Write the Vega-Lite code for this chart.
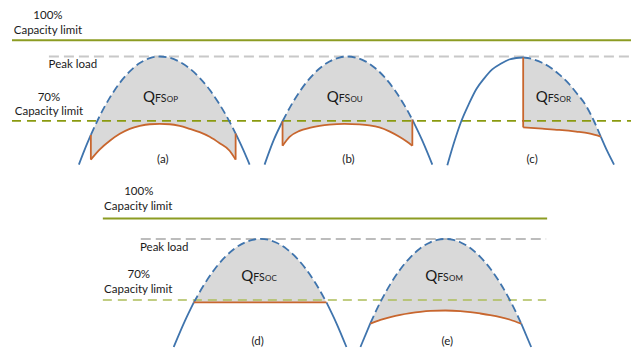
{
  "$schema": "https://vega.github.io/schema/vega-lite/v6.json",
  "width": 632,
  "height": 351,
  "padding": 0,
  "autosize": {"type": "fit", "contains": "padding"},
  "background": "white",
  "config": {"view": {"stroke": null}, "text": {"font": "Lato", "color": "#1a1a1a"}},
  "datasets": {
    "hl": [
      {"kind": "cap100", "x": 12, "x2": 632, "y": 40.5},
      {"kind": "peak", "x": 49, "x2": 632, "y": 57},
      {"kind": "cap70", "x": 12, "x2": 632, "y": 122},
      {"kind": "cap100", "x": 103, "x2": 548, "y": 220.5},
      {"kind": "peakB", "x": 141, "x2": 547, "y": 241},
      {"kind": "cap70B", "x": 103, "x2": 547, "y": 302.7}
    ],
    "fl": [
      {"p": "a", "x": 91, "top": 136.1, "bot": 161},
      {"p": "a", "x": 100, "top": 116.8, "bot": 150.7},
      {"p": "a", "x": 110, "top": 98.5, "bot": 142},
      {"p": "a", "x": 120, "top": 83.6, "bot": 135},
      {"p": "a", "x": 130, "top": 72, "bot": 130},
      {"p": "a", "x": 140, "top": 63.6, "bot": 127},
      {"p": "a", "x": 150, "top": 58.7, "bot": 125.3},
      {"p": "a", "x": 160, "top": 57, "bot": 125},
      {"p": "a", "x": 170, "top": 58.3, "bot": 125.3},
      {"p": "a", "x": 180, "top": 62.4, "bot": 127},
      {"p": "a", "x": 190, "top": 69.1, "bot": 130},
      {"p": "a", "x": 200, "top": 78.5, "bot": 133.3},
      {"p": "a", "x": 210, "top": 90.6, "bot": 138},
      {"p": "a", "x": 220, "top": 105.4, "bot": 144.5},
      {"p": "a", "x": 230, "top": 122.9, "bot": 152},
      {"p": "a", "x": 236, "top": 134.7, "bot": 161},
      {"p": "b", "x": 283, "top": 122.3, "bot": 147},
      {"p": "b", "x": 290, "top": 109, "bot": 138},
      {"p": "b", "x": 300, "top": 92.6, "bot": 132},
      {"p": "b", "x": 310, "top": 79.3, "bot": 129},
      {"p": "b", "x": 320, "top": 69.1, "bot": 127},
      {"p": "b", "x": 330, "top": 62, "bot": 125.7},
      {"p": "b", "x": 340, "top": 58, "bot": 125.2},
      {"p": "b", "x": 348, "top": 57, "bot": 125},
      {"p": "b", "x": 356, "top": 58, "bot": 125.3},
      {"p": "b", "x": 366, "top": 61.9, "bot": 126},
      {"p": "b", "x": 376, "top": 68.8, "bot": 127.6},
      {"p": "b", "x": 386, "top": 78.8, "bot": 130.5},
      {"p": "b", "x": 396, "top": 91.8, "bot": 135.5},
      {"p": "b", "x": 406, "top": 107.8, "bot": 141.8},
      {"p": "b", "x": 413, "top": 120.7, "bot": 147},
      {"p": "c", "x": 524, "top": 58, "bot": 128.5},
      {"p": "c", "x": 533, "top": 59.5, "bot": 129.2},
      {"p": "c", "x": 543, "top": 63.3, "bot": 129.8},
      {"p": "c", "x": 552, "top": 68.5, "bot": 130.4},
      {"p": "c", "x": 560, "top": 75, "bot": 131},
      {"p": "c", "x": 569, "top": 83.5, "bot": 131.8},
      {"p": "c", "x": 577, "top": 93.3, "bot": 132.7},
      {"p": "c", "x": 587, "top": 106.7, "bot": 134.2},
      {"p": "c", "x": 595, "top": 122.3, "bot": 135.7},
      {"p": "c", "x": 601.7, "top": 137.7, "bot": 137.7},
      {"p": "d", "x": 194, "top": 305, "bot": 305},
      {"p": "d", "x": 205, "top": 286.2, "bot": 305},
      {"p": "d", "x": 215, "top": 271.5, "bot": 305},
      {"p": "d", "x": 225, "top": 259.7, "bot": 305},
      {"p": "d", "x": 235, "top": 250.7, "bot": 305},
      {"p": "d", "x": 245, "top": 244.7, "bot": 305},
      {"p": "d", "x": 253, "top": 241.9, "bot": 305},
      {"p": "d", "x": 261, "top": 241, "bot": 305},
      {"p": "d", "x": 269, "top": 241.9, "bot": 305},
      {"p": "d", "x": 277, "top": 244.8, "bot": 305},
      {"p": "d", "x": 287, "top": 251, "bot": 305},
      {"p": "d", "x": 297, "top": 260.1, "bot": 305},
      {"p": "d", "x": 307, "top": 272.2, "bot": 305},
      {"p": "d", "x": 317, "top": 287.2, "bot": 305},
      {"p": "d", "x": 327, "top": 305, "bot": 305},
      {"p": "e", "x": 371, "top": 325.9, "bot": 326.5},
      {"p": "e", "x": 381, "top": 304.7, "bot": 322.7},
      {"p": "e", "x": 391, "top": 286.6, "bot": 319.8},
      {"p": "e", "x": 401, "top": 271.5, "bot": 317.5},
      {"p": "e", "x": 411, "top": 259.5, "bot": 315.8},
      {"p": "e", "x": 421, "top": 250.4, "bot": 314.5},
      {"p": "e", "x": 431, "top": 244.4, "bot": 313.6},
      {"p": "e", "x": 438, "top": 242, "bot": 313.3},
      {"p": "e", "x": 446, "top": 241, "bot": 313.2},
      {"p": "e", "x": 454, "top": 242, "bot": 313.4},
      {"p": "e", "x": 461, "top": 244.3, "bot": 313.8},
      {"p": "e", "x": 471, "top": 250.2, "bot": 314.8},
      {"p": "e", "x": 481, "top": 259.1, "bot": 316.2},
      {"p": "e", "x": 491, "top": 270.8, "bot": 317.8},
      {"p": "e", "x": 501, "top": 285.6, "bot": 319.8},
      {"p": "e", "x": 511, "top": 303.3, "bot": 322.5},
      {"p": "e", "x": 522, "top": 326.1, "bot": 326.5}
    ],
    "cv": [
      {"seg": "aL", "kind": "blueSolid", "x": 79, "y": 166},
      {"seg": "aL", "kind": "blueSolid", "x": 85, "y": 150.4},
      {"seg": "aL", "kind": "blueSolid", "x": 91, "y": 136.1},
      {"seg": "aD", "kind": "blueDash", "x": 91, "y": 136.1},
      {"seg": "aD", "kind": "blueDash", "x": 100, "y": 116.8},
      {"seg": "aD", "kind": "blueDash", "x": 110, "y": 98.5},
      {"seg": "aD", "kind": "blueDash", "x": 120, "y": 83.6},
      {"seg": "aD", "kind": "blueDash", "x": 130, "y": 72},
      {"seg": "aD", "kind": "blueDash", "x": 140, "y": 63.6},
      {"seg": "aD", "kind": "blueDash", "x": 150, "y": 58.7},
      {"seg": "aD", "kind": "blueDash", "x": 160, "y": 57},
      {"seg": "aD", "kind": "blueDash", "x": 170, "y": 58.3},
      {"seg": "aD", "kind": "blueDash", "x": 180, "y": 62.4},
      {"seg": "aD", "kind": "blueDash", "x": 190, "y": 69.1},
      {"seg": "aD", "kind": "blueDash", "x": 200, "y": 78.5},
      {"seg": "aD", "kind": "blueDash", "x": 210, "y": 90.6},
      {"seg": "aD", "kind": "blueDash", "x": 220, "y": 105.4},
      {"seg": "aD", "kind": "blueDash", "x": 230, "y": 122.9},
      {"seg": "aD", "kind": "blueDash", "x": 236, "y": 134.7},
      {"seg": "aR", "kind": "blueSolid", "x": 236, "y": 134.7},
      {"seg": "aR", "kind": "blueSolid", "x": 243, "y": 149.7},
      {"seg": "aR", "kind": "blueSolid", "x": 250, "y": 166},
      {"seg": "aO", "kind": "orange", "x": 91, "y": 161},
      {"seg": "aO", "kind": "orange", "x": 100, "y": 150.7},
      {"seg": "aO", "kind": "orange", "x": 110, "y": 142},
      {"seg": "aO", "kind": "orange", "x": 120, "y": 135},
      {"seg": "aO", "kind": "orange", "x": 130, "y": 130},
      {"seg": "aO", "kind": "orange", "x": 140, "y": 127},
      {"seg": "aO", "kind": "orange", "x": 150, "y": 125.3},
      {"seg": "aO", "kind": "orange", "x": 160, "y": 125},
      {"seg": "aO", "kind": "orange", "x": 170, "y": 125.3},
      {"seg": "aO", "kind": "orange", "x": 180, "y": 127},
      {"seg": "aO", "kind": "orange", "x": 190, "y": 130},
      {"seg": "aO", "kind": "orange", "x": 200, "y": 133.3},
      {"seg": "aO", "kind": "orange", "x": 210, "y": 138},
      {"seg": "aO", "kind": "orange", "x": 220, "y": 144.5},
      {"seg": "aO", "kind": "orange", "x": 230, "y": 152},
      {"seg": "aO", "kind": "orange", "x": 236, "y": 161},
      {"seg": "bL", "kind": "blueSolid", "x": 265, "y": 166},
      {"seg": "bL", "kind": "blueSolid", "x": 274, "y": 141.6},
      {"seg": "bL", "kind": "blueSolid", "x": 283, "y": 122.3},
      {"seg": "bD", "kind": "blueDash", "x": 283, "y": 122.3},
      {"seg": "bD", "kind": "blueDash", "x": 290, "y": 109},
      {"seg": "bD", "kind": "blueDash", "x": 300, "y": 92.6},
      {"seg": "bD", "kind": "blueDash", "x": 310, "y": 79.3},
      {"seg": "bD", "kind": "blueDash", "x": 320, "y": 69.1},
      {"seg": "bD", "kind": "blueDash", "x": 330, "y": 62},
      {"seg": "bD", "kind": "blueDash", "x": 340, "y": 58},
      {"seg": "bD", "kind": "blueDash", "x": 348, "y": 57},
      {"seg": "bD", "kind": "blueDash", "x": 356, "y": 58},
      {"seg": "bD", "kind": "blueDash", "x": 366, "y": 61.9},
      {"seg": "bD", "kind": "blueDash", "x": 376, "y": 68.8},
      {"seg": "bD", "kind": "blueDash", "x": 386, "y": 78.8},
      {"seg": "bD", "kind": "blueDash", "x": 396, "y": 91.8},
      {"seg": "bD", "kind": "blueDash", "x": 406, "y": 107.8},
      {"seg": "bD", "kind": "blueDash", "x": 413, "y": 120.7},
      {"seg": "bR", "kind": "blueSolid", "x": 413, "y": 120.7},
      {"seg": "bR", "kind": "blueSolid", "x": 423, "y": 141.9},
      {"seg": "bR", "kind": "blueSolid", "x": 433, "y": 166},
      {"seg": "bO", "kind": "orange", "x": 283, "y": 147},
      {"seg": "bO", "kind": "orange", "x": 290, "y": 138},
      {"seg": "bO", "kind": "orange", "x": 300, "y": 132},
      {"seg": "bO", "kind": "orange", "x": 310, "y": 129},
      {"seg": "bO", "kind": "orange", "x": 320, "y": 127},
      {"seg": "bO", "kind": "orange", "x": 330, "y": 125.7},
      {"seg": "bO", "kind": "orange", "x": 345, "y": 125},
      {"seg": "bO", "kind": "orange", "x": 360, "y": 125.5},
      {"seg": "bO", "kind": "orange", "x": 370, "y": 126.5},
      {"seg": "bO", "kind": "orange", "x": 380, "y": 128.5},
      {"seg": "bO", "kind": "orange", "x": 390, "y": 132.5},
      {"seg": "bO", "kind": "orange", "x": 400, "y": 138},
      {"seg": "bO", "kind": "orange", "x": 407, "y": 142.5},
      {"seg": "bO", "kind": "orange", "x": 413, "y": 147},
      {"seg": "cL", "kind": "blueSolid", "x": 448, "y": 166.7},
      {"seg": "cL", "kind": "blueSolid", "x": 455, "y": 143},
      {"seg": "cL", "kind": "blueSolid", "x": 462, "y": 122.3},
      {"seg": "cL", "kind": "blueSolid", "x": 470, "y": 104},
      {"seg": "cL", "kind": "blueSolid", "x": 477, "y": 90},
      {"seg": "cL", "kind": "blueSolid", "x": 485, "y": 79},
      {"seg": "cL", "kind": "blueSolid", "x": 493, "y": 70},
      {"seg": "cL", "kind": "blueSolid", "x": 502, "y": 64},
      {"seg": "cL", "kind": "blueSolid", "x": 510, "y": 60},
      {"seg": "cL", "kind": "blueSolid", "x": 517, "y": 58.5},
      {"seg": "cL", "kind": "blueSolid", "x": 524, "y": 58},
      {"seg": "cD", "kind": "blueDash", "x": 524, "y": 58},
      {"seg": "cD", "kind": "blueDash", "x": 533, "y": 59.5},
      {"seg": "cD", "kind": "blueDash", "x": 543, "y": 63.3},
      {"seg": "cD", "kind": "blueDash", "x": 552, "y": 68.5},
      {"seg": "cD", "kind": "blueDash", "x": 560, "y": 75},
      {"seg": "cD", "kind": "blueDash", "x": 569, "y": 83.5},
      {"seg": "cD", "kind": "blueDash", "x": 577, "y": 93.3},
      {"seg": "cD", "kind": "blueDash", "x": 587, "y": 106.7},
      {"seg": "cD", "kind": "blueDash", "x": 595, "y": 122.3},
      {"seg": "cD", "kind": "blueDash", "x": 601.7, "y": 137.7},
      {"seg": "cR", "kind": "blueSolid", "x": 601.7, "y": 137.7},
      {"seg": "cR", "kind": "blueSolid", "x": 608, "y": 152},
      {"seg": "cR", "kind": "blueSolid", "x": 615, "y": 166},
      {"seg": "cO", "kind": "orange", "x": 524, "y": 128.5},
      {"seg": "cO", "kind": "orange", "x": 543, "y": 129.8},
      {"seg": "cO", "kind": "orange", "x": 560, "y": 131},
      {"seg": "cO", "kind": "orange", "x": 577, "y": 132.7},
      {"seg": "cO", "kind": "orange", "x": 590, "y": 134.5},
      {"seg": "cO", "kind": "orange", "x": 601.7, "y": 137.7},
      {"seg": "dL", "kind": "blueSolid", "x": 174, "y": 350},
      {"seg": "dL", "kind": "blueSolid", "x": 185, "y": 324.2},
      {"seg": "dL", "kind": "blueSolid", "x": 194, "y": 305.3},
      {"seg": "dD", "kind": "blueDash", "x": 194, "y": 305.3},
      {"seg": "dD", "kind": "blueDash", "x": 205, "y": 286.2},
      {"seg": "dD", "kind": "blueDash", "x": 215, "y": 271.5},
      {"seg": "dD", "kind": "blueDash", "x": 225, "y": 259.7},
      {"seg": "dD", "kind": "blueDash", "x": 235, "y": 250.7},
      {"seg": "dD", "kind": "blueDash", "x": 245, "y": 244.7},
      {"seg": "dD", "kind": "blueDash", "x": 253, "y": 241.9},
      {"seg": "dD", "kind": "blueDash", "x": 261, "y": 241},
      {"seg": "dD", "kind": "blueDash", "x": 269, "y": 241.9},
      {"seg": "dD", "kind": "blueDash", "x": 277, "y": 244.8},
      {"seg": "dD", "kind": "blueDash", "x": 287, "y": 251},
      {"seg": "dD", "kind": "blueDash", "x": 297, "y": 260.1},
      {"seg": "dD", "kind": "blueDash", "x": 307, "y": 272.2},
      {"seg": "dD", "kind": "blueDash", "x": 317, "y": 287.2},
      {"seg": "dD", "kind": "blueDash", "x": 327, "y": 305},
      {"seg": "dR", "kind": "blueSolid", "x": 327, "y": 305},
      {"seg": "dR", "kind": "blueSolid", "x": 337, "y": 326.1},
      {"seg": "dR", "kind": "blueSolid", "x": 347, "y": 350},
      {"seg": "dO", "kind": "orange", "x": 194, "y": 305},
      {"seg": "dO", "kind": "orange", "x": 327, "y": 305},
      {"seg": "eL", "kind": "blueSolid", "x": 361, "y": 350},
      {"seg": "eL", "kind": "blueSolid", "x": 371, "y": 325.9},
      {"seg": "eD", "kind": "blueDash", "x": 371, "y": 325.9},
      {"seg": "eD", "kind": "blueDash", "x": 381, "y": 304.7},
      {"seg": "eD", "kind": "blueDash", "x": 391, "y": 286.6},
      {"seg": "eD", "kind": "blueDash", "x": 401, "y": 271.5},
      {"seg": "eD", "kind": "blueDash", "x": 411, "y": 259.5},
      {"seg": "eD", "kind": "blueDash", "x": 421, "y": 250.4},
      {"seg": "eD", "kind": "blueDash", "x": 431, "y": 244.4},
      {"seg": "eD", "kind": "blueDash", "x": 438, "y": 242},
      {"seg": "eD", "kind": "blueDash", "x": 446, "y": 241},
      {"seg": "eD", "kind": "blueDash", "x": 454, "y": 242},
      {"seg": "eD", "kind": "blueDash", "x": 461, "y": 244.3},
      {"seg": "eD", "kind": "blueDash", "x": 471, "y": 250.2},
      {"seg": "eD", "kind": "blueDash", "x": 481, "y": 259.1},
      {"seg": "eD", "kind": "blueDash", "x": 491, "y": 270.8},
      {"seg": "eD", "kind": "blueDash", "x": 501, "y": 285.6},
      {"seg": "eD", "kind": "blueDash", "x": 511, "y": 303.3},
      {"seg": "eD", "kind": "blueDash", "x": 522, "y": 326.1},
      {"seg": "eR", "kind": "blueSolid", "x": 522, "y": 326.1},
      {"seg": "eR", "kind": "blueSolid", "x": 532, "y": 350},
      {"seg": "eO", "kind": "orange", "x": 371, "y": 326.5},
      {"seg": "eO", "kind": "orange", "x": 381, "y": 322.7},
      {"seg": "eO", "kind": "orange", "x": 391, "y": 319.8},
      {"seg": "eO", "kind": "orange", "x": 401, "y": 317.5},
      {"seg": "eO", "kind": "orange", "x": 411, "y": 315.8},
      {"seg": "eO", "kind": "orange", "x": 421, "y": 314.5},
      {"seg": "eO", "kind": "orange", "x": 431, "y": 313.6},
      {"seg": "eO", "kind": "orange", "x": 446, "y": 313.2},
      {"seg": "eO", "kind": "orange", "x": 461, "y": 313.8},
      {"seg": "eO", "kind": "orange", "x": 471, "y": 314.8},
      {"seg": "eO", "kind": "orange", "x": 481, "y": 316.2},
      {"seg": "eO", "kind": "orange", "x": 491, "y": 317.8},
      {"seg": "eO", "kind": "orange", "x": 501, "y": 319.8},
      {"seg": "eO", "kind": "orange", "x": 511, "y": 322.5},
      {"seg": "eO", "kind": "orange", "x": 522, "y": 326.5}
    ],
    "vr": [
      {"x": 91, "y": 136.1, "y2": 161},
      {"x": 236, "y": 134.7, "y2": 161},
      {"x": 283, "y": 122.3, "y2": 147},
      {"x": 413, "y": 120.7, "y2": 147},
      {"x": 524, "y": 58, "y2": 128.5}
    ],
    "tx": [
      {"role": "label", "text": "100%", "x": 48, "y": 16},
      {"role": "label", "text": "Capacity limit", "x": 48, "y": 31},
      {"role": "label", "text": "Peak load", "x": 73, "y": 66},
      {"role": "label", "text": "70%", "x": 49, "y": 99},
      {"role": "label", "text": "Capacity limit", "x": 49, "y": 113},
      {"role": "label", "text": "100%", "x": 139, "y": 194},
      {"role": "label", "text": "Capacity limit", "x": 138.5, "y": 209},
      {"role": "label", "text": "Peak load", "x": 164.5, "y": 250},
      {"role": "label", "text": "70%", "x": 139, "y": 277},
      {"role": "label", "text": "Capacity limit", "x": 138.5, "y": 292},
      {"role": "label", "text": "(a)", "x": 163, "y": 161},
      {"role": "label", "text": "(b)", "x": 349, "y": 161},
      {"role": "label", "text": "(c)", "x": 533, "y": 161},
      {"role": "label", "text": "(d)", "x": 258, "y": 345},
      {"role": "label", "text": "(e)", "x": 448, "y": 345},
      {"role": "Q", "text": "Q", "x": 143.3, "y": 102.5},
      {"role": "Q", "text": "Q", "x": 327.3, "y": 102.5},
      {"role": "Q", "text": "Q", "x": 536.7, "y": 102.5},
      {"role": "Q", "text": "Q", "x": 241.7, "y": 283.5},
      {"role": "Q", "text": "Q", "x": 426, "y": 283.5},
      {"role": "sub", "text": "FS", "x": 155.3, "y": 102.5},
      {"role": "sub", "text": "FS", "x": 339.3, "y": 102.5},
      {"role": "sub", "text": "FS", "x": 548.7, "y": 102.5},
      {"role": "sub", "text": "FS", "x": 253.7, "y": 283.5},
      {"role": "sub", "text": "FS", "x": 438, "y": 283.5},
      {"role": "sub2", "text": "OP", "x": 167, "y": 102.5},
      {"role": "sub2", "text": "OU", "x": 351, "y": 102.5},
      {"role": "sub2", "text": "OR", "x": 560.4, "y": 102.5},
      {"role": "sub2", "text": "OC", "x": 265.4, "y": 283.5},
      {"role": "sub2", "text": "OM", "x": 449.7, "y": 283.5}
    ]
  },
  "encoding": {
    "x": {"field": "x", "type": "quantitative", "scale": {"domain": [0, 632], "nice": false, "zero": false}, "axis": null},
    "y": {"field": "y", "type": "quantitative", "scale": {"domain": [0, 351], "reverse": true, "nice": false, "zero": false}, "axis": null}
  },
  "layer": [
    {
      "data": {"name": "fl"},
      "mark": {"type": "area", "fill": "#d9d9d9", "interpolate": "monotone"},
      "encoding": {
        "y": {"field": "top", "type": "quantitative"},
        "y2": {"field": "bot"},
        "detail": {"field": "p"}
      }
    },
    {
      "data": {"name": "hl"},
      "mark": {"type": "rule"},
      "encoding": {
        "x2": {"field": "x2"},
        "color": {"field": "kind", "type": "nominal", "legend": null,
          "scale": {"domain": ["cap100", "peak", "cap70", "peakB", "cap70B"], "range": ["#8c9c22", "#c8c8c8", "#8a9a10", "#a6a6a6", "#adbd5a"]}},
        "strokeDash": {"field": "kind", "type": "nominal", "legend": null,
          "scale": {"domain": ["cap100", "peak", "cap70", "peakB", "cap70B"], "range": [[1, 0], [10, 5], [9, 6], [10, 5], [9, 6]]}},
        "strokeWidth": {"field": "kind", "type": "nominal", "legend": null,
          "scale": {"domain": ["cap100", "peak", "cap70", "peakB", "cap70B"], "range": [2, 1.5, 1.5, 1.3, 2]}}
      }
    },
    {
      "data": {"name": "cv"},
      "transform": [{"filter": "datum.kind === 'blueSolid'"}],
      "mark": {"type": "line", "interpolate": "monotone", "stroke": "#3f74ad", "strokeWidth": 1.8},
      "encoding": {"detail": {"field": "seg"}}
    },
    {
      "data": {"name": "cv"},
      "transform": [{"filter": "datum.kind === 'blueDash'"}],
      "mark": {"type": "line", "interpolate": "monotone", "stroke": "#3f74ad", "strokeWidth": 1.8, "strokeDash": [8, 4]},
      "encoding": {"detail": {"field": "seg"}}
    },
    {
      "data": {"name": "cv"},
      "transform": [{"filter": "datum.kind === 'orange'"}],
      "mark": {"type": "line", "interpolate": "monotone", "stroke": "#c8662e", "strokeWidth": 1.8},
      "encoding": {"detail": {"field": "seg"}}
    },
    {
      "data": {"name": "vr"},
      "mark": {"type": "rule", "stroke": "#c8662e", "strokeWidth": 1.8},
      "encoding": {"y2": {"field": "y2"}}
    },
    {
      "data": {"name": "tx"},
      "transform": [{"filter": "datum.role === 'label'"}],
      "mark": {"type": "text", "fontSize": 11.5, "align": "center", "baseline": "middle"},
      "encoding": {"text": {"field": "text"}}
    },
    {
      "data": {"name": "tx"},
      "transform": [{"filter": "datum.role === 'Q'"}],
      "mark": {"type": "text", "fontSize": 15, "align": "left", "baseline": "alphabetic"},
      "encoding": {"text": {"field": "text"}}
    },
    {
      "data": {"name": "tx"},
      "transform": [{"filter": "datum.role === 'sub'"}],
      "mark": {"type": "text", "fontSize": 10.5, "align": "left", "baseline": "alphabetic"},
      "encoding": {"text": {"field": "text"}}
    },
    {
      "data": {"name": "tx"},
      "transform": [{"filter": "datum.role === 'sub2'"}],
      "mark": {"type": "text", "fontSize": 8, "align": "left", "baseline": "alphabetic"},
      "encoding": {"text": {"field": "text"}}
    }
  ]
}
